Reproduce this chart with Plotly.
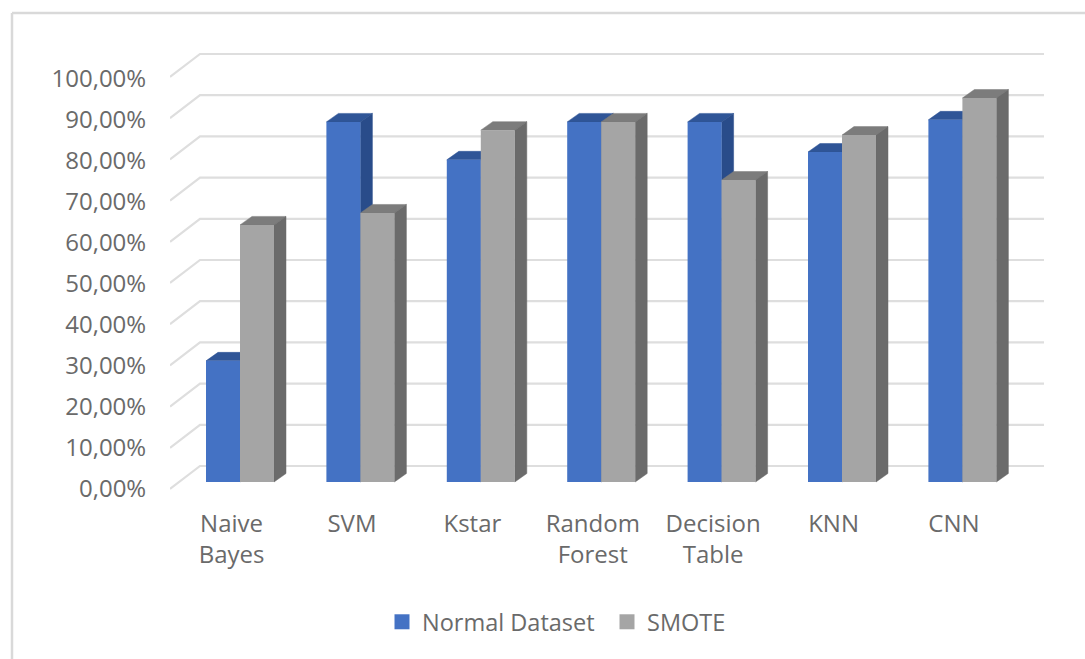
import plotly.graph_objects as go

categories = ["Naive<br>Bayes", "SVM", "Kstar", "Random<br>Forest", "Decision<br>Table", "KNN", "CNN"]
normal_dataset = [29.4, 87.4, 78.2, 87.4, 87.4, 80.1, 87.9]
smote = [62.4, 65.3, 85.4, 87.4, 73.3, 84.2, 93.2]
y_ticks = [0, 10, 20, 30, 40, 50, 60, 70, 80, 90, 100]

# pixel geometry of the drawing
W, H = 1085, 659
L, R, T, B = 170, 1044, 40, 505
PX_PER_VAL = 4.12
PX_PER_CAT = 120.4
X0_PX, Y0_PX = 240, 482
BAR_W = 34 / PX_PER_CAT
DX = 12 / PX_PER_CAT
DY = 8.5 / PX_PER_VAL
LABEL_SHIFT = 7 / PX_PER_VAL
LABEL_SCALE = 0.995
WALL_RISE = 16 / PX_PER_VAL
WALL_X = (200 - X0_PX) / PX_PER_CAT
FRONT_X = (L - X0_PX) / PX_PER_CAT
END_X = (R - X0_PX) / PX_PER_CAT
x_range = [FRONT_X, END_X]
y_range = [(Y0_PX - B) / PX_PER_VAL, (Y0_PX - T) / PX_PER_VAL]

BLUE, BLUE_TOP, BLUE_SIDE = "#4472C4", "#2F5597", "#294C8A"
GRAY, GRAY_TOP, GRAY_SIDE = "#A5A5A5", "#7C7C7C", "#6B6B6B"
TEXT = "#6A6A6A"
GRID = "#DEDEDE"
FONT = "Open Sans"

fig = go.Figure()

# floor-and-wall gridlines
gx, gy = [], []
for v in y_ticks:
    gx += [FRONT_X, WALL_X, END_X, None]
    gy += [v - LABEL_SHIFT, v + WALL_RISE, v + WALL_RISE, None]
fig.add_trace(go.Scatter(x=gx, y=gy, mode="lines", line=dict(color=GRID, width=2.2),
                         hoverinfo="skip", showlegend=False, cliponaxis=False))


def faces(values, left_offset):
    top_x, top_y, side_x, side_y = [], [], [], []
    for i, v in enumerate(values):
        a = i + left_offset
        b = a + BAR_W
        top_x += [a, b, b + DX, a + DX, a, None]
        top_y += [v, v, v + DY, v + DY, v, None]
        side_x += [b, b + DX, b + DX, b, b, None]
        side_y += [0, DY, v + DY, v, 0, None]
    return top_x, top_y, side_x, side_y


for values, off, ctop, cside in [(normal_dataset, -BAR_W, BLUE_TOP, BLUE_SIDE), (smote, 0, GRAY_TOP, GRAY_SIDE)]:
    tx, ty, sx, sy = faces(values, off)
    for px, py, col in [(tx, ty, ctop), (sx, sy, cside)]:
        fig.add_trace(go.Scatter(x=px, y=py, mode="lines", fill="toself", fillcolor=col,
                                 line=dict(color=col, width=0.5), hoverinfo="skip", showlegend=False))

idx = list(range(len(categories)))
fig.add_trace(go.Bar(x=[i - BAR_W / 2 for i in idx], y=normal_dataset, width=BAR_W, yaxis="y2",
                     marker=dict(color=BLUE, line=dict(width=0)), showlegend=False))
fig.add_trace(go.Bar(x=[i + BAR_W / 2 for i in idx], y=smote, width=BAR_W, yaxis="y2",
                     marker=dict(color=GRAY, line=dict(width=0)), showlegend=False))

# legend entries
for name, col in [("Normal Dataset", BLUE), ("SMOTE", GRAY)]:
    fig.add_trace(go.Scatter(x=[None], y=[None], mode="markers", name=name,
                             marker=dict(symbol="square", size=15, color=col)))

# frame of the chart
fx = (12 - L) / (R - L)
fy = (B - 13) / (B - T)
fig.add_shape(type="line", xref="paper", yref="paper", x0=fx, x1=(W - L) / (R - L), y0=fy, y1=fy,
              line=dict(color="#D9D9D9", width=2.5), layer="below")
fig.add_shape(type="line", xref="paper", yref="paper", x0=fx, x1=fx, y0=fy, y1=(B - H) / (B - T),
              line=dict(color="#D9D9D9", width=2.5), layer="below")

fig.update_layout(
    width=W, height=H,
    margin=dict(l=L, r=W - R, t=T, b=H - B),
    paper_bgcolor="white", plot_bgcolor="rgba(0,0,0,0)",
    barmode="overlay",
    font=dict(family=FONT, color=TEXT, size=24),
    xaxis=dict(range=x_range, tickmode="array", tickvals=[i - 0.07 for i in idx], ticktext=categories,
               showgrid=False, zeroline=False, showline=False, ticks="", ticklabelstandoff=2,
               tickangle=0, tickfont=dict(size=24, color=TEXT)),
    yaxis=dict(range=y_range, tickmode="array", tickvals=[v * LABEL_SCALE - LABEL_SHIFT for v in y_ticks],
               ticktext=[f"{v},00%" for v in y_ticks], showgrid=False, zeroline=False, showline=False,
               ticks="outside", ticklen=18, tickcolor="rgba(0,0,0,0)", tickfont=dict(size=24, color=TEXT)),
    yaxis2=dict(range=y_range, overlaying="y", visible=False),
    legend=dict(orientation="h", xanchor="left", yanchor="middle",
                x=(382 - L) / (R - L), y=(B - 622) / (B - T), font=dict(size=23.5, color=TEXT),
                bgcolor="rgba(0,0,0,0)", entrywidth=180, entrywidthmode="pixels"),
)

fig.write_html("out.html", config={"displayModeBar": False}, post_script="document.body.style.margin='0';")
